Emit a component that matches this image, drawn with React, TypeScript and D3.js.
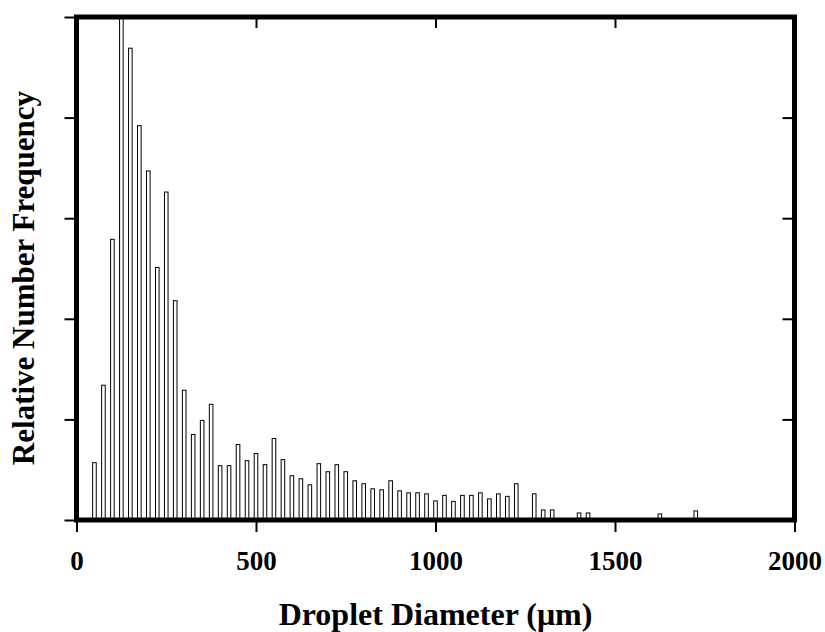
import React, { useEffect, useRef } from 'react'
import * as d3 from 'd3'

// bin centres (µm) and relative number frequency (in y-tick units)
const diameters = [
	50, 75, 100, 125, 150, 175, 200, 225, 250, 275,
	300, 325, 350, 375, 400, 425, 450, 475, 500, 525,
	550, 575, 600, 625, 650, 675, 700, 725, 750, 775,
	800, 825, 850, 875, 900, 925, 950, 975, 1000, 1025,
	1050, 1075, 1100, 1125, 1150, 1175, 1200, 1225, 1275, 1300,
	1325, 1400, 1425, 1625, 1725,
]
const frequency = [
	0.57, 1.34, 2.79, 5.0, 4.69, 3.92, 3.47, 2.51, 3.26, 2.18,
	1.29, 0.85, 0.99, 1.15, 0.54, 0.54, 0.75, 0.59, 0.66, 0.55,
	0.81, 0.6, 0.44, 0.41, 0.35, 0.56, 0.48, 0.55, 0.48, 0.39,
	0.36, 0.31, 0.3, 0.39, 0.29, 0.27, 0.27, 0.26, 0.19, 0.245,
	0.185, 0.245, 0.245, 0.27, 0.21, 0.26, 0.235, 0.36, 0.26, 0.1,
	0.1, 0.07, 0.07, 0.06, 0.09,
]
const xTicks = [0, 500, 1000, 1500, 2000]
const yTicks = [0, 1, 2, 3, 4, 5]

const xTitle = 'Droplet Diameter (\u03bcm)'
const yTitle = 'Relative Number Frequency'

export default function App() {
	const ref = useRef<SVGSVGElement>(null)

	const width = 825
	const height = 632
	const left = 76.5
	const right = 794.5
	const top = 17
	const bottom = 520
	const font = '"Liberation Serif", "Times New Roman", serif'

	useEffect(() => {
		document.body.style.margin = '0'
		const svg = d3.select(ref.current)
		svg.selectAll('*').remove()

		const x = d3.scaleLinear().domain([0, 2000]).range([left, right])
		const y = d3.scaleLinear().domain([0, 5]).range([bottom, top])
		const barW = x(10) - x(0)

		// bars
		svg.append('g')
			.selectAll('rect')
			.data(diameters)
			.enter()
			.append('rect')
			.attr('x', (d: number) => x(d) - barW / 2)
			.attr('y', (_: number, i: number) => y(frequency[i]))
			.attr('width', barW)
			.attr('height', (_: number, i: number) => bottom - y(frequency[i]))
			.attr('fill', '#fff')
			.attr('stroke', '#000')
			.attr('stroke-width', 1)

		const style = (g: any) => {
			g.select('.domain').remove()
			g.selectAll('line').attr('stroke', '#000').attr('stroke-width', 2)
		}

		// bottom axis, outer ticks with labels
		svg.append('g')
			.attr('transform', `translate(0,${bottom})`)
			.call(d3.axisBottom(x).tickValues(xTicks).tickSize(12).tickPadding(19).tickFormat(d3.format('d')))
			.call(style)
			.selectAll('text')
			.attr('fill', '#000')
			.style('font-family', font)
			.style('font-weight', 'bold')
			.style('font-size', '27px')

		// top axis, inner ticks
		svg.append('g')
			.attr('transform', `translate(0,${top})`)
			.call(d3.axisBottom(x).tickValues(xTicks).tickSize(11).tickFormat(() => ''))
			.call(style)

		// left axis, outer ticks
		svg.append('g')
			.attr('transform', `translate(${left},0)`)
			.call(d3.axisLeft(y).tickValues(yTicks).tickSize(12).tickFormat(() => ''))
			.call(style)

		// right axis, inner ticks
		svg.append('g')
			.attr('transform', `translate(${right},0)`)
			.call(d3.axisLeft(y).tickValues(yTicks).tickSize(12).tickFormat(() => ''))
			.call(style)

		// frame
		svg.append('rect')
			.attr('x', left)
			.attr('y', top)
			.attr('width', right - left)
			.attr('height', bottom - top)
			.attr('fill', 'none')
			.attr('stroke', '#000')
			.attr('stroke-width', 5)

		// titles
		svg.append('text')
			.attr('x', (left + right) / 2)
			.attr('y', 625)
			.attr('text-anchor', 'middle')
			.style('font-family', font)
			.style('font-weight', 'bold')
			.style('font-size', '32px')
			.text(xTitle)

		svg.append('text')
			.attr('transform', 'translate(34,278) rotate(-90)')
			.attr('text-anchor', 'middle')
			.style('font-family', font)
			.style('font-weight', 'bold')
			.style('font-size', '31px')
			.text(yTitle)
	}, [])

	return (
		<svg ref={ref} width={width} height={height} style={{ display: 'block', background: '#fff' }} />
	)
}
